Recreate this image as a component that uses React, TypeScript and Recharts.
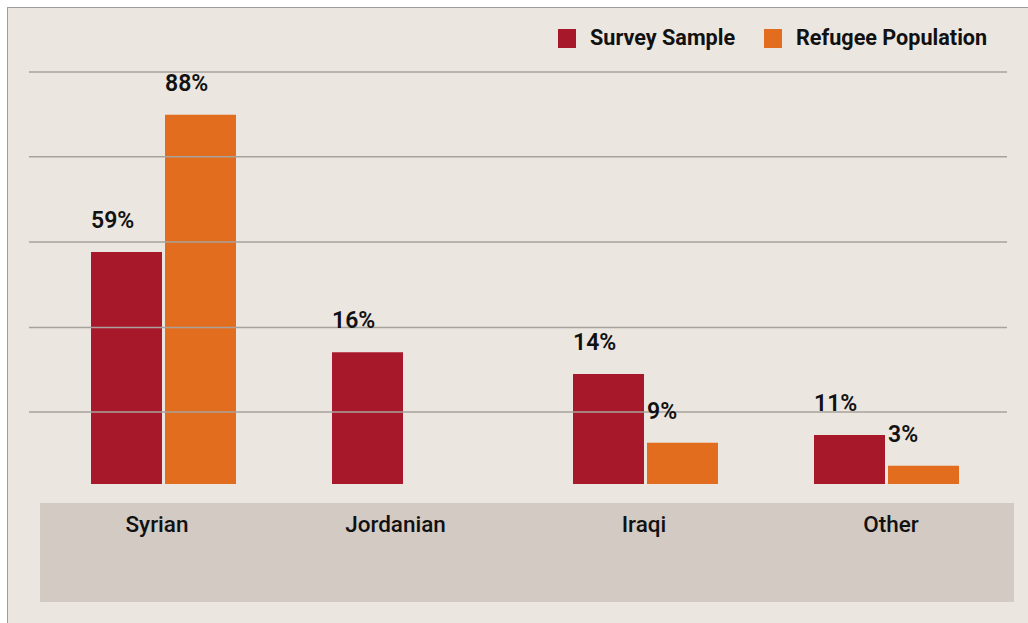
import React from 'react';
import { BarChart, Bar, XAxis, YAxis, ReferenceLine, LabelList } from 'recharts';

const categories = ['Syrian', 'Jordanian', 'Iraqi', 'Other'];
const seriesNames = ['Survey Sample', 'Refugee Population'];
// bar heights as drawn, read against the gridlines (top gridline = 100)
const surveyHeights = [56.3, 32.0, 26.7, 11.9];
const refugeeHeights = [89.6, 0, 10.0, 4.4];
// printed value labels
const surveyLabels = ['59%', '16%', '14%', '11%'];
const refugeeLabels = ['88%', '', '9%', '3%'];
const gridTicks = [17.5, 38, 58.75, 79.4, 100];

const data = categories.map((c, i) => ({
  category: c,
  survey: surveyHeights[i],
  refugee: refugeeHeights[i],
  surveyLabel: surveyLabels[i],
  refugeeLabel: refugeeLabels[i],
}));

const RED = '#a8182b';
const ORANGE = '#e36d1f';
const BG = '#ebe6e0';
const BAND = '#d3cac4';
const GRID = '#a8a29c';
const TEXT = '#111111';
const FONT = 'Roboto, "Open Sans", sans-serif';
const tickNudge = [-6.5, -9, -1.5, 4.5];

const ValueLabel = (props: any) => {
  const { x, y, value } = props;
  if (!value) return null;
  return (
    <text x={Number(x)} y={Number(y) - 24} fill={TEXT} fontSize={23} fontWeight={600} fontFamily={FONT}>
      {value}
    </text>
  );
};

const CategoryTick = (props: any) => {
  const { x, y, payload, index } = props;
  return (
    <text
      x={Number(x) + (tickNudge[index] || 0)}
      y={Number(y) + 48}
      textAnchor="middle"
      fill={TEXT}
      fontSize={22.5}
      fontWeight={500}
      fontFamily={FONT}
    >
      {payload.value}
    </text>
  );
};

export default function App() {
  return (
    <div
      style={{
        position: 'fixed',
        left: 7,
        top: 7,
        width: 1040,
        height: 640,
        border: '1px solid #9d9d9d',
        background: BG,
      }}
    >
      <div style={{ position: 'absolute', left: 32, top: 495, width: 974, height: 99, background: BAND }} />
      <svg style={{ position: 'absolute', left: 0, top: 0 }} width={1020} height={60}>
        <rect x={550} y={21} width={18} height={19} fill={RED} />
        <text x={582} y={37} fill={TEXT} fontSize={21.6} fontWeight={700} fontFamily={FONT}>
          {seriesNames[0]}
        </text>
        <rect x={756} y={21} width={18} height={19} fill={ORANGE} />
        <text x={788} y={37} fill={TEXT} fontSize={21.6} fontWeight={700} fontFamily={FONT}>
          {seriesNames[1]}
        </text>
      </svg>
      <div style={{ position: 'absolute', left: 0, top: 0 }}>
        <BarChart
          width={1020}
          height={615}
          data={data}
          margin={{ top: 64, left: 21, right: 21, bottom: 39 }}
          barSize={71}
          barGap={3}
        >
          <YAxis hide domain={[0, 100]} ticks={gridTicks} type="number" />
          <XAxis
            dataKey="category"
            padding={{ left: 14, right: 0 }}
            axisLine={false}
            tickLine={false}
            tickSize={0}
            tickMargin={0}
            height={100}
            interval={0}
            tick={<CategoryTick />}
          />
          {gridTicks.map((t) => (
            <ReferenceLine key={t} y={t} stroke={GRID} strokeWidth={1.5} />
          ))}
          <Bar dataKey="survey" name={seriesNames[0]} fill={RED} isAnimationActive={false}>
            <LabelList dataKey="surveyLabel" content={<ValueLabel />} />
          </Bar>
          <Bar dataKey="refugee" name={seriesNames[1]} fill={ORANGE} isAnimationActive={false}>
            <LabelList dataKey="refugeeLabel" content={<ValueLabel />} />
          </Bar>
        </BarChart>
      </div>
    </div>
  );
}
